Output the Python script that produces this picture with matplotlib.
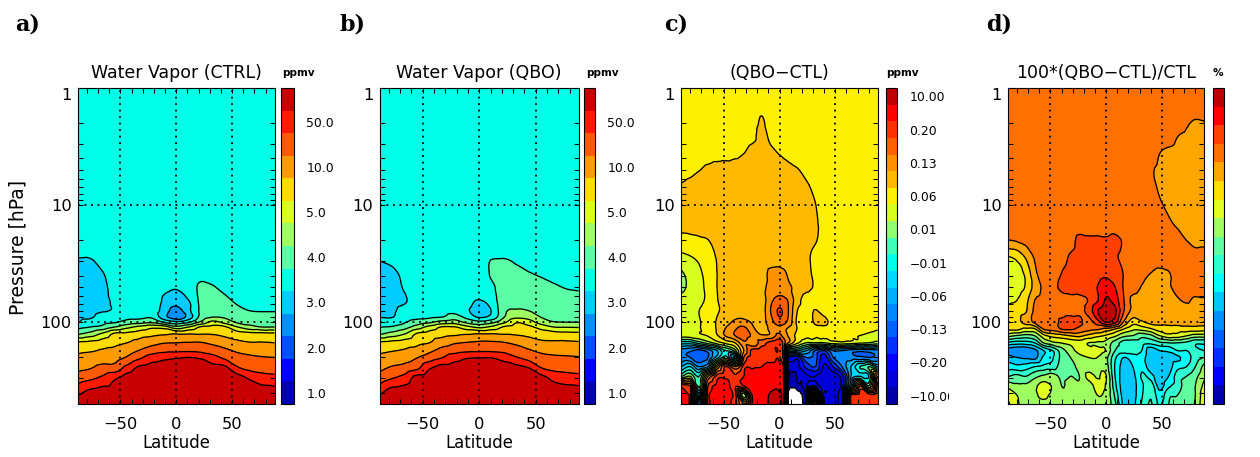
import numpy as np
import matplotlib
matplotlib.use('Agg')
import matplotlib.pyplot as plt
import matplotlib.tri as mtri
from matplotlib.ticker import NullFormatter
from matplotlib.transforms import Bbox, TransformedBbox, IdentityTransform

W, H = 1260, 457

LAT_AB = [-88, -77, -66, -55, -44, -33, -22, -11, 0, 11, 22, 33, 44, 55, 66, 77, 88]
P_AB = [1, 10, 25, 30, 40, 50, 60, 70, 80, 90, 100, 110, 125, 150, 175, 200, 250, 300, 400, 500]
CTRL_BY_LAT = [
    [5.5,5.5,5.2,4.9,4.6,4.6,4.6,4.7,4.8,4.9,5.0,5.7,6.8,9.2,9.8,10.2,10.8,11.5,12.8,13.8],
    [5.5,5.5,5.3,4.9,4.7,4.6,4.6,4.7,4.8,4.9,5.3,6.0,7.3,9.3,9.9,10.4,11.0,11.8,13.3,13.9],
    [5.5,5.5,5.5,5.3,4.9,4.75,4.75,4.8,4.95,5.3,5.7,6.3,8.1,9.5,10.1,10.5,11.4,12.2,13.5,13.9],
    [5.5]*5+[5.4,5.3,5.15,5.1,5.3,5.9,7.0,9.1,9.75,10.25,10.6,11.5,12.85,13.5,13.9],
    [5.5]*9+[5.7,6.4,7.7,9.2,10.0,10.55,11.1,12.45,13.5,13.8,13.9],
    [5.5]*8+[5.6,5.75,6.6,8.25,9.45,10.35,11.05,11.8,13.3,13.7,13.8,13.9],
    [5.5]*8+[5.6,5.85,6.8,8.7,9.65,10.7,11.5,12.45,13.5,13.7,13.8,13.9],
    [5.5]*5+[5.3,4.95,4.8,4.6,4.4,5.9,8.5,9.8,10.95,11.75,12.75,13.5,13.7,13.8,13.9],
    [5.5]*4+[5.3,5.1,4.65,4.2,3.5,3.2,5.3,7.3,9.9,11.0,11.8,12.9,13.5,13.7,13.8,13.9],
    [5.5]*6+[5.2,4.8,4.75,4.4,5.85,8.0,9.9,11.05,11.85,13.0,13.5,13.7,13.8,13.9],
    [5.5]*4+[5.8,6.15,6.2,6.2,6.2,6.3,7.2,9.1,9.9,11.05,11.75,12.85,13.5,13.7,13.8,13.9],
    [5.5]*4+[5.7,6.05,6.3,6.55,6.8,6.95,8.3,9.3,9.9,10.8,11.55,12.3,13.4,13.7,13.8,13.9],
    [5.5]*5+[5.7,6.05,6.35,6.6,6.85,7.6,9.1,9.7,10.5,11.2,11.75,13.3,13.6,13.8,13.9],
    [5.5]*6+[5.6,5.95,6.25,6.55,6.85,8.0,9.4,10.2,10.85,11.35,12.2,13.5,13.8,13.9],
    [5.5]*7+[5.7,6.0,6.4,6.75,7.3,9.25,10.05,10.7,11.15,11.8,12.85,13.6,13.9],
    [5.5]*7+[5.7,5.95,6.35,6.7,7.0,9.2,10.05,10.55,11.05,11.65,12.45,13.5,13.9],
    [5.5]*7+[5.7,5.95,6.35,6.7,7.0,9.15,10.0,10.5,11.0,11.6,12.3,13.5,13.9],
]
QBO_BY_LAT = [
    [5.5,5.5,5.2,5.0,4.65,4.6,4.6,4.7,4.8,4.95,5.35,5.95,6.8,9.2,9.8,10.2,10.8,11.45,12.85,13.8],
    [5.5,5.5,5.3,5.15,4.75,4.65,4.7,4.8,4.85,4.95,5.5,6.1,7.3,9.35,9.95,10.4,11.2,11.95,13.5,13.9],
    [5.5,5.5,5.5,5.4,5.2,5.1,4.95,5.0,5.3,5.6,5.9,6.55,7.9,9.5,10.1,10.55,11.45,12.35,13.6,13.9],
    [5.5]*6+[5.4,5.2,5.3,5.7,6.45,7.45,9.05,9.75,10.35,10.95,11.9,13.4,13.8,13.9],
    [5.5]*9+[5.8,6.8,8.3,9.35,10.0,10.8,11.45,12.95,13.5,13.8,13.9],
    [5.5]*8+[5.6,5.95,7.4,9.05,9.6,10.55,11.35,11.95,13.5,13.7,13.8,13.9],
    [5.5]*8+[5.7,6.45,7.55,9.05,9.75,10.9,11.6,12.55,13.5,13.7,13.8,13.9],
    [5.5]*7+[5.3,5.15,5.7,6.75,8.3,9.85,11.05,11.8,12.9,13.5,13.7,13.8,13.9],
    [5.5]*6+[5.2,4.75,4.55,4.85,6.3,7.75,9.95,11.15,11.85,12.95,13.5,13.7,13.8,13.9],
    [5.5,5.5,5.6,6.05,6.1,5.8,5.6,5.3,5.05,5.3,6.7,8.2,9.95,11.15,11.85,12.95,13.5,13.7,13.8,13.9],
    [5.5,5.5,5.7,6.1,6.4,6.5,6.6,6.7,6.8,6.95,7.8,9.1,9.9,11.05,11.75,12.6,13.5,13.7,13.8,13.9],
    [5.5,5.5,5.6,5.9,6.25,6.5,6.7,6.85,7.1,7.75,8.9,9.35,9.85,10.8,11.45,12.05,13.4,13.7,13.8,13.9],
    [5.5,5.5,5.5,5.7,6.1,6.4,6.65,6.85,7.0,7.6,8.45,9.2,9.7,10.5,11.1,11.6,13.1,13.6,13.8,13.9],
    [5.5,5.5,5.5,5.6,5.95,6.25,6.45,6.65,6.8,6.95,7.5,8.6,9.45,10.2,10.8,11.3,12.1,13.4,13.8,13.9],
    [5.5,5.5,5.5,5.55,5.8,6.1,6.35,6.55,6.7,6.85,7.05,8.0,9.35,10.15,10.7,11.15,11.8,12.7,13.6,13.9],
    [5.5,5.5,5.5,5.5,5.7,5.95,6.2,6.45,6.65,6.85,7.0,7.95,9.25,10.15,10.65,11.1,11.7,12.5,13.5,13.9],
    [5.5,5.5,5.5,5.5,5.7,5.9,6.15,6.4,6.65,6.85,7.0,7.9,9.2,10.1,10.55,11.05,11.65,12.35,13.5,13.9],
]

LAT_D = [-88,-80,-72,-64,-56,-48,-40,-32,-24,-16,-8,0,8,16,24,32,40,48,56,64,72,80,88]
LAT_C = [-88,-80,-72,-64,-56,-48,-40,-32,-24,-16,-8,0,4,8,16,24,32,40,48,56,64,72,80,88]
P_CD = [1,1.5,1.8,2.5,3.5,5,7,10,14,20,28,38,50,65,80,100,115,130,150,175,200,240,290,350,420,500]
DIFF_ROWS = [
    [12.5]*12+[12.5]+[12.5]*11,
    [12.5]*9+[12.8]+[12.5]*14,
    [12.5]*9+[13.05]+[12.5]*14,
    [12.5]*8+[12.7,13.4,12.7]+[12.5]*13,
    [12.5]*6+[12.7,12.95,13.3,13.5,13.2,12.9,12.75,12.6]+[12.5]*10,
    [12.6,12.75,12.97,13.2,13.4]+[13.5]*7+[13.4,13.3,13.05,12.8,12.6]+[12.5]*7,
    [13.1,13.3]+[13.5]*12+[13.3,13.1,12.85,12.6]+[12.5]*6,
    [13.4]+[13.5]*13+[13.4,13.2,13.02,12.75,12.6]+[12.5]*5,
    [13.3,13.4]+[13.5]*12+[13.45,13.3,13.1,12.75,12.6]+[12.5]*5,
    [12.7,12.75,12.85,12.98,13.3]+[13.5]*9+[13.45,13.3,13.05,12.8,12.6]+[12.5]*5,
    [11.7,11.93,12.2,12.7,13.05,13.4]+[13.5]*8+[13.4,13.15,12.8,12.6]+[12.5]*6,
    [10.9,11.3,11.8,12.45,13.0,13.3,13.5,13.5,13.5,13.6,14.2,14.3,14.15,13.85,13.5,13.2,12.85,12.6]+[12.5]*6,
    [10.8,11.2,11.7,12.3,13.0,13.3,13.5,13.5,13.5,13.7,14.3,14.5,14.4,14.15,13.8,13.3,12.9,12.6]+[12.5]*6,
    [11.3,11.5,11.8,12.2,12.95,13.3,13.5,13.5,13.5,13.4,14.75,15.3,15.2,14.9,13.4,12.55,12.5,12.5]+[12.5]*6,
    [11.6,11.7,12.0,12.35,12.9,13.2,13.5,13.5,13.5,13.5,15.0,16.15,15.8,15.0,13.0,12.6,13.05,12.7]+[12.5]*6,
    [11.8,11.9,11.95,12.4,13.1,13.6,14.2,14.3,13.9,13.6,14.6,15.6,15.3,14.7,12.8,12.5,13.1,13.2,12.7]+[12.5]*5,
    [11.7,11.8,11.95,12.3,13.1,14.1,14.9,15.4,14.2,13.7,14.2,14.6,14.2,13.8,12.95,12.5,12.7,12.7,12.5,12.4,12.4,12.3,12.2,12.05],
    [11.5,11.6,11.8,12.1,12.9,14.15,15.0,15.6,14.8,14.1,14.2,15.3,14.5,13.9,12.7,12.3,12.2,12.2,12.2,12.2,12.15,12.0,11.8,11.6],
    [8.5,8.5,9.5,10.5,11.5,12.3,13.0,14.8,14.2,15.5,16.3,16.6,15.5,14.0,12.2,11.0,11.0,11.0,11.5,11.7,11.5,11.2,11.0,10.5],
    [5.5,5.2,4.7,5.5,7,9,10.5,14,16.3,16.5,16.6,16.8,15,8,8,7,5,4,6,6,5.5,5.3,5.5,5.5],
    [5.2,5.0,4.3,5.0,7.5,9.5,6,15,16.5,16.6,16.6,16.8,15,3,2.5,5,4.5,2.5,5,5.5,5.5,5.2,5,5.3],
    [7,8,6,7,13,16.1,14,16.5,16.9,17,17.3,17.2,16.5,1.7,1.8,3.3,4,1.8,3,5,7,9,10,8],
    [10,11,9,14,16.4,16.8,16.2,17,17.3,17.1,17.4,17.4,16.5,1.2,1.2,1.8,2,1.2,1.5,2.5,7,8,8,15],
    [16.5,16,9,16,17.2,17.3,16.3,17,17.3,17.3,17.7,17.7,16.8,0.8,0.8,1.8,3,1.2,1.5,2.5,8,15,10,16.5],
    [17.1,16.5,6,16.5,17.3,17.3,16.5,10,17.3,17.4,18.1,18.1,17,-0.5,-0.8,1.5,15,1.5,1.7,3,16,16.5,16.5,16.8],
    [17.2,16.5,5,16.3,17.3,17.3,16.5,14,17.3,17.4,18.2,18.2,17,-0.8,-1,1.3,16,1.8,1.8,3,16.2,16.5,16.5,16.8],
]
PCT_ROWS = [
    [13.5]*23,
    [13.5]*23,
    [13.5]*20+[13.2,13.05,13.1],
    [13.5]*19+[13.05,12.9,12.7,12.7],
    [13.5]*16+[13.4,13.03,12.85,12.7,12.6,12.6,12.6],
    [13.5]*16+[13.1,12.85]+[12.6]*5,
    [13.5]*16+[13.2,12.9]+[12.6]*5,
    [13.5]*16+[13.4,13.1,12.85,12.65,12.6,12.6,12.6],
    [13.5]*17+[13.4,13.1,12.85,12.65,12.6,12.6],
    [12.95,13.1,13.3,13.5,13.5,13.5,13.5,13.7,14.2,14.15,14.15,14.1,14.2,13.9,13.6,13.5,13.5,13.5,13.4,13.3,13.0,12.7,12.7],
    [10.9,11.2,12.1,13.1,13.5,13.5,13.7,14.1,14.3,14.4,14.4,14.4,14.1,13.8,13.6,13.5,13.5,13.5,13.5,13.5,13.5,13.4,13.5],
    [10.5,10.8,11.2,12.8,13.3,13.5,14.0,14.3,14.4,14.4,14.5,14.7,14.4,13.95,13.6,13.3,13.0,12.8,12.95,13.4,13.5,13.5,13.5],
    [10.4,10.6,11.1,12.4,13.2,13.7,14.2,14.4,14.5,14.5,15.0,15.7,15.0,13.9,13.5,12.95,12.6,12.6,12.9,13.25,13.5,13.5,13.3],
    [10.85,11.0,11.7,13.0,13.3,13.5,13.6,13.7,13.7,14.05,14.9,16.1,15.5,14.0,12.7,12.5,12.5,12.5,12.5,12.9,13.1,12.85,12.9],
    [11.2,11.4,11.9,13.2,13.4,13.5,13.5,13.6,13.8,14.3,15.9,16.5,16.2,14.0,12.7,12.5,12.5,12.5,12.5,12.5,12.7,12.7,12.7],
    [11.6,11.7,12.4,13.2,13.4,13.5,14.2,14.5,14.2,13.6,14.5,16.1,15.3,12.8,11.4,11.85,12.3,12.3,12.4,12.4,12.4,12.4,12.4],
    [11.2,11.2,10.7,10.8,13,13.3,14.0,14.1,13.7,13.3,13.1,12.6,11.9,10.9,10.2,10.3,10.8,11.4,11.4,11.4,11.5,11.5,11.4],
    [9.4,9.0,8.7,9.1,10.7,11.4,11.7,12.1,12.3,11.8,11.3,10.9,10.25,9.3,9,8.4,8.8,10.05,10.7,10.6,10.1,9.6,9.6],
    [6.75,6.5,6.55,7.05,9.05,9.75,10.05,10.3,10.5,10,9.9,9.7,8.55,7.55,7.5,7.4,7.3,7.8,8,8,7.8,7.2,7.2],
    [4.5,4.2,4.1,4.7,6,7,8.5,9.6,10.3,10.4,10.3,9.9,8,7.5,7.5,7,5.2,6,6.2,7,7,7.2,7],
    [5.5,5,4.8,4.7,6.2,6.9,8.3,9,9.7,10,10,9.3,7.2,6,6.5,6.5,5.2,5.3,5.6,5.8,6.5,7.5,8],
    [6.5,6.3,6.5,7,7.3,7.5,8.5,8.8,9.2,9.5,9.7,9.5,6.9,5.6,6,6.8,5.2,5.2,5.5,6.7,7,8,9.3],
    [8,8.3,8,8.7,9.2,9.5,8.8,9,9,10.3,9.9,10.05,7,5.5,5.7,7.1,6.5,5.3,6,7.5,8,8.7,9.8],
    [9.7,9.2,9.2,9.8,10.4,9.9,9,9.2,9.1,9.4,10.3,9.9,7.3,5.4,5.6,6.8,7.6,5.6,6.8,7.5,8.5,9,10.3],
    [10.7,10,9.4,9.9,10.1,9.8,9.1,9.2,9.2,9.4,10,9.7,7.8,5.5,5.6,6.9,7.9,6.4,7.8,8,8.7,9,10.8],
    [11.2,10.2,9.5,9.9,9.9,9.7,9.2,9.2,9.3,9.4,9.7,9.6,8.2,5.7,5.7,7.1,8.1,6.8,8,8.2,8.8,9.1,11],
]

LABELS_WV = ['1.0', '2.0', '3.0', '4.0', '5.0', '10.0', '50.0']
LABELS_DIFF = ['\u221210.00', '\u22120.20', '\u22120.13', '\u22120.06', '\u22120.01',
               '0.01', '0.06', '0.13', '0.20', '10.00']
LABELS_PCT = ['\u22127', '\u22125', '\u22123', '\u22121', '0', '1', '3', '5', '7']

# ---- styles
COL14 = ['#0000b4','#0000ff','#0050ff','#0090ff','#00ccff','#00ffe6','#5affa5',
         '#a0ff60','#d8ff20','#ffdc00','#ff9a00','#ff5a00','#ff1a00','#c80000']
COL19 = ['#0000a8','#0000d8','#0000ff','#0030ff','#0060ff','#0088ff','#00b0ff','#00d8ff',
         '#00ffe6','#40ffb8','#90ff70','#d8ff20','#fff000','#ffb900','#ff9000','#ff6000',
         '#ff3000','#ff0000','#c00000']
COL17 = ['#0000b0','#0000ff','#0030ff','#0060ff','#0090ff','#00c8ff','#00ffff','#30ffd0',
         '#60ffa0','#a0ff60','#e0ff20','#ffde00','#ffa500','#ff7000','#ff4000','#ff0000','#c00000']

plt.rcParams['font.family'] = 'DejaVu Sans'
plt.rcParams['axes.linewidth'] = 0.8
fig = plt.figure(figsize=(W/100, H/100), dpi=100)

def box(x0, x1, y0=88, y1=404):
    return [x0/W, 1-y1/H, (x1-x0)/W, (y1-y0)/H]

def fine_mesh(lat, p, field):
    """matplotlib's own tri refiner, so contours run smoothly through the read values."""
    z = np.array(field, dtype=float)
    ny, nx = z.shape
    xx, yy = np.meshgrid(np.array(lat, float), np.log10(np.array(p, float)))
    idx = np.arange(nx*ny).reshape(ny, nx)
    a, b, c, d = idx[:-1, :-1].ravel(), idx[:-1, 1:].ravel(), idx[1:, :-1].ravel(), idx[1:, 1:].ravel()
    tris = np.vstack([np.c_[a, b, d], np.c_[a, d, c]])
    tri = mtri.Triangulation(xx.ravel()/176.0, yy.ravel()/2.7, tris)
    ref = mtri.UniformTriRefiner(tri)
    t1, zc = ref.refine_field(z.ravel(), subdiv=3,
                              triinterpolator=mtri.CubicTriInterpolator(tri, z.ravel(), kind='geom'))
    t2, zl = ref.refine_field(z.ravel(), subdiv=3,
                              triinterpolator=mtri.LinearTriInterpolator(tri, z.ravel()))
    zf = np.clip(zc, zl-0.45, zl+0.45)
    return mtri.Triangulation(t1.x*176.0, 10**(t1.y*2.7), t1.triangles), zf

def panel(x0, x1, cx0, cx1, lat, p, field, colors, labels, title, letter, lx, unit, ux):
    ax = fig.add_axes(box(x0, x1))
    n = len(colors)
    levels = np.arange(n+1)
    tri, z = fine_mesh(lat, p, field)
    cs = ax.tricontourf(tri, z, levels=levels, colors=colors)
    ax.tricontour(tri, z, levels=levels, colors='k', linewidths=0.95)
    ax.set_yscale('log')
    ax.set_ylim(500, 1)
    ax.set_xlim(-88, 88)
    ax.set_xticks([-50, 0, 50], ['\u221250', '0', '50'])
    ax.set_xticks(np.arange(-80, 81, 10), minor=True)
    ax.set_yticks([1, 10, 100], ['1', '10', '100'])
    ax.set_yticks([2,3,4,5,6,7,8,9,20,30,40,50,60,70,80,90,200,300,400], minor=True)
    ax.yaxis.set_minor_formatter(NullFormatter())
    ax.tick_params(axis='both', which='both', direction='in', top=True, right=True,
                   length=3.6, width=0.75, labelsize=11.7)
    ax.tick_params(axis='x', which='major', pad=9.5)
    ax.tick_params(axis='y', which='major', pad=4.5)
    ax.get_yticklabels()[0].set_va('top')
    for v in [-50, 0, 50]:
        ax.axvline(v, color='k', lw=1.3, ls=(0, (1, 2.6)), zorder=5)
    for v in [10, 100]:
        ax.axhline(v, color='k', lw=1.3, ls=(0, (1, 2.6)), zorder=5)
    ax.set_xlabel('Latitude', fontsize=11.9, labelpad=1)
    ax.set_title(title, fontsize=12.5, pad=7.2)
    cax = fig.add_axes(box(cx0, cx1))
    cb = fig.colorbar(cs, cax=cax, ticks=np.arange(0, n, 2)+0.5)
    cb.set_ticklabels(labels)
    cb.ax.tick_params(length=0, labelsize=8.9, pad=9)
    cb.ax.minorticks_off()
    cb.outline.set_linewidth(0.8)
    for lab in cb.ax.get_yticklabels():
        lab.set_clip_box(TransformedBbox(Bbox([[0, 0], [949, H]]), IdentityTransform()))
        lab.set_clip_on(True)
    fig.text(lx/W, 1-31/H, letter, family='DejaVu Serif', weight='bold', fontsize=16)
    fig.text(ux/W, 1-73/H, unit, weight='bold', fontsize=7.6, va='center')

panel(78, 274.5, 281.3, 293.7, LAT_AB, P_AB, np.array(CTRL_BY_LAT).T, COL14, LABELS_WV,
      'Water Vapor (CTRL)', 'a)', 15, 'ppmv', 282)
panel(379.7, 578.7, 584, 595, LAT_AB, P_AB, np.array(QBO_BY_LAT).T, COL14, LABELS_WV,
      'Water Vapor (QBO)', 'b)', 339, 'ppmv', 586)
panel(681.3, 877.7, 886, 897, LAT_C, P_CD, DIFF_ROWS, COL19, LABELS_DIFF,
      '(QBO\u2212CTL)', 'c)', 664, 'ppmv', 886)
panel(1008, 1204.3, 1212.7, 1223.7, LAT_D, P_CD, PCT_ROWS, COL17, LABELS_PCT,
      '100*(QBO\u2212CTL)/CTL', 'd)', 986, '%', 1213)

fig.text(18/W, 1-247/H, 'Pressure [hPa]', rotation=90, fontsize=13.5, va='center', ha='center')
fig.savefig('out.png', dpi=100)
